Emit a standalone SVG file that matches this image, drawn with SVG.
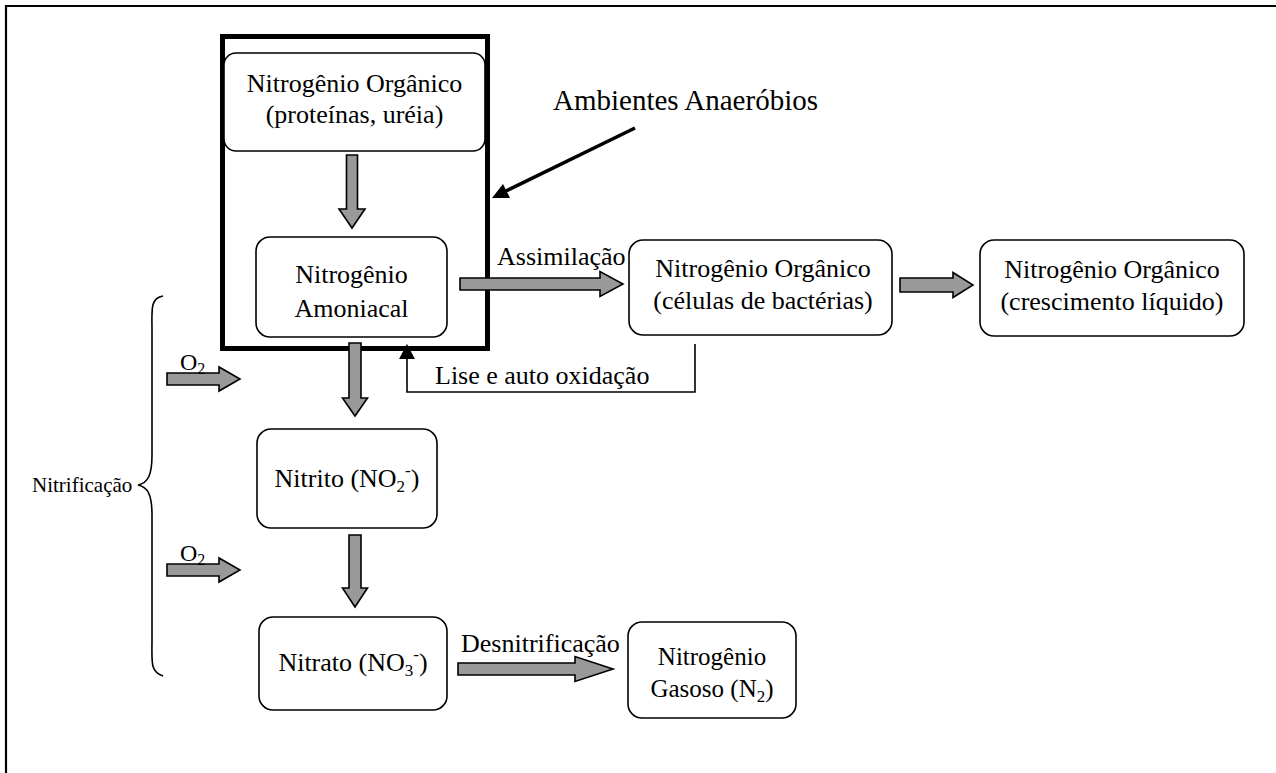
<svg xmlns="http://www.w3.org/2000/svg" width="1276" height="773" viewBox="0 0 1276 773" font-family="'Liberation Serif', 'Times New Roman', 'DejaVu Serif', serif">
  <style>
    text { font-family: "Liberation Serif", "Times New Roman", Times, "DejaVu Serif", serif; fill: #000; }
    .lbl { font-size: 26px; }
    .box { fill: #fff; stroke: #000; stroke-width: 1.6; }
    .blk { fill: #999; stroke: #000; stroke-width: 1.6; stroke-linejoin: miter; }
    .ln { fill: none; stroke: #000; stroke-width: 1.6; }
  </style>

  <rect width="1276" height="773" fill="#fff"/>
  <!-- page frame: only the top and left edges fall inside the view -->
  <path d="M6,1300 L6,6 L1300,6" fill="none" stroke="#000" stroke-width="2.2"/>

  <!-- anaerobic zone -->
  <g id="anaerobic-zone">
    <rect x="222.5" y="36.5" width="265" height="312" fill="none" stroke="#000" stroke-width="5"/>
  </g>

  <g id="n-organico">
    <rect class="box" x="224" y="53" width="261" height="98" rx="12"/>
    <text class="lbl" x="354.5" y="92" text-anchor="middle">Nitrogênio Orgânico</text>
    <text class="lbl" x="354.5" y="123" text-anchor="middle">(proteínas, uréia)</text>
  </g>

  <g id="n-amoniacal">
    <rect class="box" x="256" y="237" width="191" height="100" rx="14"/>
    <text class="lbl" x="351.5" y="283" text-anchor="middle">Nitrogênio</text>
    <text class="lbl" x="351.5" y="317" text-anchor="middle">Amoniacal</text>
  </g>

  <g id="n-bacterias">
    <rect class="box" x="629" y="240" width="263" height="95" rx="14"/>
    <text class="lbl" x="763" y="277" text-anchor="middle" font-size="27">Nitrogênio Orgânico</text>
    <text class="lbl" x="763" y="309" text-anchor="middle" font-size="27">(células de bactérias)</text>
  </g>

  <g id="n-liquido">
    <rect class="box" x="980" y="240" width="264" height="96" rx="14"/>
    <text class="lbl" x="1112" y="278" text-anchor="middle">Nitrogênio Orgânico</text>
    <text class="lbl" x="1112" y="310" text-anchor="middle">(crescimento líquido)</text>
  </g>

  <g id="nitrito">
    <rect class="box" x="257" y="429" width="180" height="99" rx="14"/>
    <text class="lbl" x="347" y="487" text-anchor="middle">Nitrito (NO<tspan font-size="17" dy="5">2</tspan><tspan font-size="17" dy="-16">-</tspan><tspan dy="11">)</tspan></text>
  </g>

  <g id="nitrato">
    <rect class="box" x="259" y="617" width="188" height="93" rx="14"/>
    <text class="lbl" x="353" y="671" text-anchor="middle">Nitrato (NO<tspan font-size="17" dy="5">3</tspan><tspan font-size="17" dy="-16">-</tspan><tspan dy="11">)</tspan></text>
  </g>

  <g id="n-gasoso">
    <rect class="box" x="628" y="622" width="168" height="96" rx="14"/>
    <text x="712" y="665" text-anchor="middle" font-size="25">Nitrogênio</text>
    <text x="712" y="697" text-anchor="middle" font-size="25">Gasoso (N<tspan font-size="17" dy="5">2</tspan><tspan dy="-5">)</tspan></text>
  </g>

  <g id="nitrificacao">
    <path class="ln" d="M163,296 C150,298 152,310 152,330 L152,455 C152,475 148,483 138,485 C148,487 152,495 152,515 L152,640 C152,662 150,672 163,676"/>
    <text x="32" y="492" font-size="21">Nitrificação</text>
  </g>

  <g id="connectors">
    <!-- vertical flow -->
    <polygon class="blk" points="346.5,155 357.5,155 357.5,209 365,209 352,228 339,209 346.5,209"/>
    <polygon class="blk" points="349,343 361,343 361,398 367.5,398 355,416 342.5,398 349,398"/>
    <polygon class="blk" points="349,535 361,535 361,588 367.5,588 355,607 342.5,588 349,588"/>

    <!-- horizontal flow -->
    <polygon class="blk" points="460,278 600,278 600,271.5 623,284 600,296.5 600,290 460,290"/>
    <polygon class="blk" points="900,278 953,278 953,272.5 973,285 953,297.5 953,292 900,292"/>
    <polygon class="blk" points="458,663 575,663 575,656.5 613,669 575,681.5 575,675 458,675"/>

    <!-- oxygen inputs -->
    <polygon class="blk" points="167,373 219,373 219,367 240,379 219,391 219,385 167,385"/>
    <polygon class="blk" points="167,564 219,564 219,558 240,570 219,582 219,576 167,576"/>
    <text x="180" y="370" font-size="24">O<tspan font-size="16" dy="4">2</tspan></text>
    <text x="180" y="561" font-size="24">O<tspan font-size="16" dy="4">2</tspan></text>

    <!-- lysis return -->
    <path class="ln" d="M695,344 L695,392 L407,392 L407,359"/>
    <polygon points="399,359 415,359 407,344" fill="#000"/>
    <text class="lbl" x="435" y="384">Lise e auto oxidação</text>

    <text class="lbl" x="497" y="265">Assimilação</text>
    <text class="lbl" x="461" y="652">Desnitrificação</text>

    <!-- pointer to the anaerobic zone -->
    <line x1="635" y1="128" x2="506" y2="191" stroke="#000" stroke-width="3.5"/>
    <polygon points="492,198 503,184 510,198" fill="#000"/>
    <text x="553" y="110" font-size="29">Ambientes Anaeróbios</text>
  </g>
</svg>
